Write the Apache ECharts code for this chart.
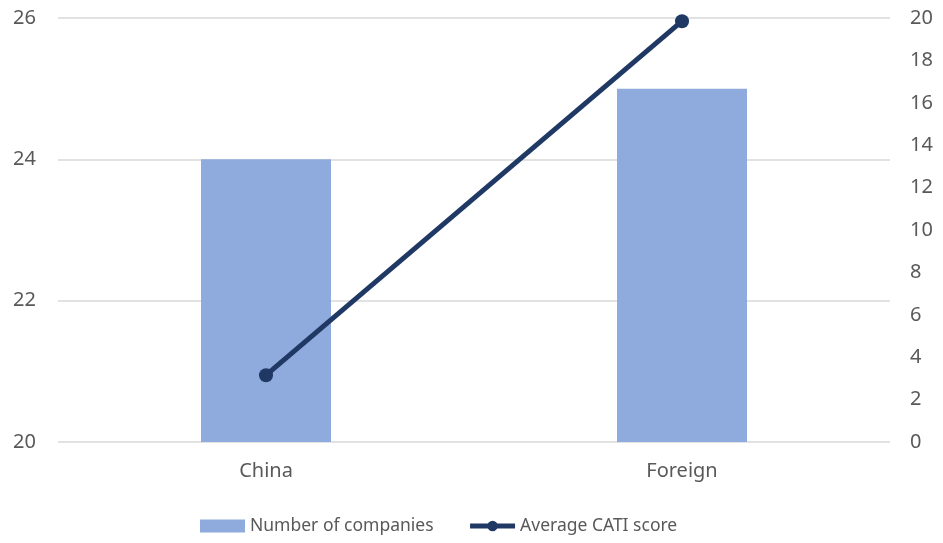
<!DOCTYPE html>
<html>
<head>
<meta charset="utf-8">
<script src="https://cdn.jsdelivr.net/npm/echarts@6/dist/echarts.min.js"></script>
<style>
  html, body { margin: 0; padding: 0; background: #fff; }
  #chart { width: 943px; height: 543px; }
</style>
</head>
<body>
<div id="chart"></div>
<script>
const categories = ["China", "Foreign"]
const companyCounts = [24, 25]
const catiScores = [3.15, 19.85]

const textColor = "#595959"
const font = "Noto Sans"

const chart = echarts.init(document.getElementById("chart"))

chart.setOption({
  animation: false,
  textStyle: { fontFamily: font },
  grid: { left: 58, right: 53, top: 18, bottom: 101 },
  legend: {
    bottom: 3,
    left: 195,
    itemGap: 34,
    itemWidth: 45,
    itemHeight: 13,
    textStyle: { color: textColor, fontSize: 17.5, fontFamily: font },
    data: [
      { name: "Number of companies", icon: "rect" },
      { name: "Average CATI score", lineStyle: { width: 5 } },
    ],
  },
  xAxis: {
    type: "category",
    data: categories,
    axisLine: { show: false },
    axisTick: { show: false },
    axisLabel: { color: textColor, fontSize: 20, margin: 19 },
  },
  yAxis: [
    {
      type: "value",
      min: 20,
      max: 26,
      interval: 2,
      axisLine: { show: false },
      axisTick: { show: false },
      axisLabel: { color: textColor, fontSize: 20, margin: 22 },
      splitLine: { lineStyle: { color: "#d9d9d9", width: 1.5 } },
    },
    {
      type: "value",
      min: 0,
      max: 20,
      interval: 2,
      axisLine: { show: false },
      axisTick: { show: false },
      axisLabel: { color: textColor, fontSize: 20, margin: 20 },
      splitLine: { show: false },
    },
  ],
  series: [
    {
      name: "Number of companies",
      type: "bar",
      data: companyCounts,
      barWidth: 130,
      itemStyle: { color: "#8faadc" },
    },
    {
      name: "Average CATI score",
      type: "line",
      yAxisIndex: 1,
      data: catiScores,
      symbol: "circle",
      symbolSize: 14,
      lineStyle: { color: "#1f3864", width: 5 },
      itemStyle: { color: "#1f3864" },
    },
  ],
})
</script>
</body>
</html>
